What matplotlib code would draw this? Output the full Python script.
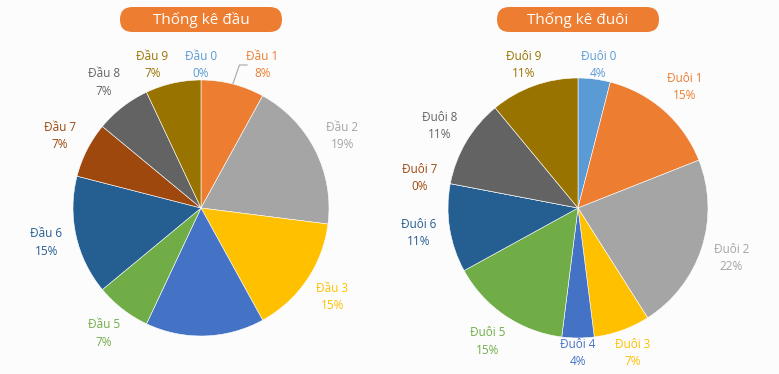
import numpy as np
import matplotlib.pyplot as plt
from matplotlib.patches import FancyBboxPatch

plt.rcParams['font.family'] = ['Open Sans', 'DejaVu Sans']

# percentages
head_labels = ["Đầu 0", "Đầu 1", "Đầu 2", "Đầu 3", "Đầu 4",
               "Đầu 5", "Đầu 6", "Đầu 7", "Đầu 8", "Đầu 9"]
head_values = [0, 8, 19, 15, 15, 7, 15, 7, 7, 7]
tail_labels = ["Đuôi 0", "Đuôi 1", "Đuôi 2", "Đuôi 3", "Đuôi 4",
               "Đuôi 5", "Đuôi 6", "Đuôi 7", "Đuôi 8", "Đuôi 9"]
tail_values = [4, 15, 22, 7, 4, 15, 11, 0, 11, 11]
titles = ["Thống kê đầu", "Thống kê đuôi"]

colors = ["#5B9BD5", "#ED7D31", "#A5A5A5", "#FFC000", "#4472C4",
          "#70AD47", "#255E91", "#9E480E", "#636363", "#997300"]

W, H = 779, 374
fig = plt.figure(figsize=(W / 100, H / 100), dpi=100)
fig.patch.set_facecolor("#fcfcfc")

# overlay axes in pixel units for the title boxes
bg = fig.add_axes([0, 0, 1, 1])
bg.set_xlim(0, W)
bg.set_ylim(H, 0)
bg.axis("off")


def draw_pie(cx, cy, r, labels, values, title, hidden=(), nudge=None):
    ax = fig.add_axes([(cx - r) / W, (H - cy - r) / H, 2 * r / W, 2 * r / H])
    ax.set_facecolor("none")
    wedges, _ = ax.pie(values, colors=colors, startangle=90, counterclock=False,
                       radius=1, wedgeprops=dict(edgecolor="white", linewidth=0.4))
    ax.set_xlim(-1, 1)
    ax.set_ylim(-1, 1)
    total = sum(values)
    top, bottom = (cy - 65) / r, -(353 - cy) / r   # labels stay in plot area
    for i, (w, lab, v) in enumerate(zip(wedges, labels, values)):
        if i in hidden:
            continue
        ang = np.deg2rad((w.theta1 + w.theta2) / 2)
        d = 1.24
        x, y = d * np.cos(ang), min(max(d * np.sin(ang), bottom), top)
        if nudge and i in nudge:
            x = nudge[i]
            if i == 1:
                ex, ey = np.cos(ang), np.sin(ang)
                ax.plot([ex, x - 0.18, x - 0.12], [ey, y, y], color="#a6a6a6",
                        lw=0.8, clip_on=False)
        ax.text(x, y, f"{lab}\n{round(v / total * 100)}%", ha="center",
                va="center", color=colors[i], fontsize=8.5, linespacing=1.45)

    bw, bh = 162, 25
    bg.add_patch(FancyBboxPatch((cx - bw / 2, 7), bw, bh,
                                boxstyle="round,pad=0,rounding_size=12.5",
                                fc="#ED7D31", ec="none"))
    bg.text(cx, 7 + bh / 2, title, ha="center", va="center", color="white",
            fontsize=11)


draw_pie(201, 208, 128, head_labels, head_values, titles[0],
         hidden=(4,), nudge={1: 0.48, 9: -0.38})
draw_pie(578, 208, 130, tail_labels, tail_values, titles[1])

fig.savefig("out.png", dpi=100, facecolor=fig.get_facecolor())
